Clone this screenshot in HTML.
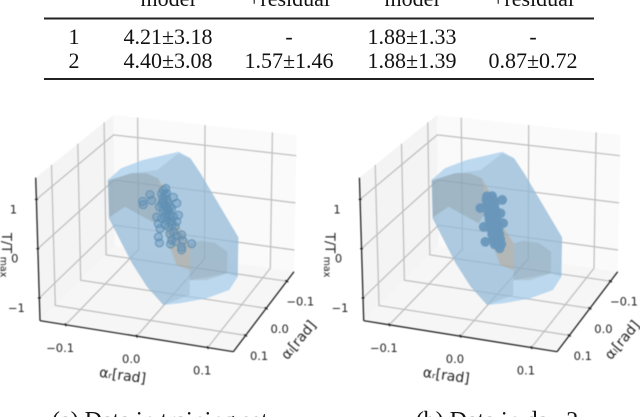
<!DOCTYPE html>
<html><head><meta charset="utf-8">
<style>
html,body{margin:0;padding:0;background:#fff;width:640px;height:417px;overflow:hidden}
svg{display:block;position:absolute;left:0;top:0}
.t{font-family:"Liberation Serif",serif;font-size:22px;fill:#111;text-anchor:middle}
.k{font-family:"DejaVu Sans",sans-serif;font-size:11.5px;fill:#222;text-anchor:middle}
</style></head>
<body>
<svg id="root" width="640" height="417" viewBox="0 0 640 417" xmlns="http://www.w3.org/2000/svg">
<g>
<text class="t" x="168" y="6">model</text>
<text class="t" x="289" y="6">+residual</text>
<text class="t" x="412" y="6">model</text>
<text class="t" x="533" y="6">+residual</text>
<rect x="44" y="17.5" width="550" height="2" fill="#222"/>
<text class="t" x="74" y="44">1</text>
<text class="t" x="168" y="44">4.21±3.18</text>
<text class="t" x="289" y="44">-</text>
<text class="t" x="412" y="44">1.88±1.33</text>
<text class="t" x="533" y="44">-</text>
<text class="t" x="74" y="68">2</text>
<text class="t" x="168" y="68">4.40±3.08</text>
<text class="t" x="289" y="68">1.57±1.46</text>
<text class="t" x="412" y="68">1.88±1.39</text>
<text class="t" x="533" y="68">0.87±0.72</text>
<rect x="44" y="78" width="550" height="2" fill="#222"/>
</g>
<text class="t" style="font-size:24px" x="160" y="428">(a) Data in training set</text>
<text class="t" style="font-size:24px" x="497" y="428">(b) Data in day 2</text>
<g id="plotA" style="filter:blur(.45px)"></g>
<g id="plotB" style="filter:blur(.45px)"></g>
</svg>
<script>
// ---- axis ticks ----
const rTicks = [-0.1, 0, 0.1];
const rTickLabels = ['−0.1', '0.0', '0.1'];
const lTicks = [-0.1, 0, 0.1];
const lTickLabels = ['−0.1', '0.0', '0.1'];
const zTicks = [-1, 0, 1];
const zTickLabels = ['−1', '0', '1'];

// ---- hull outlines (alpha_r, T) on the mid plane ----
const hullOuterR = [-.0895,-.0704,-.0392,.0111,.0278,.0422,.0973,.0973,.0853,.052,.0135,-.0105,-.0344,-.056,-.0887];
const hullOuterT = [.809,1.087,1.313,1.566,1.456,1.17,-.036,-.833,-1.127,-1.367,-1.55,-1.638,-1.31,-.869,.007];
const hullBodyR = [-.0895,-.056,-.0196,.0111,.0278,.0422,.0973,.0819,.0819,.0278,.0278,-.0105,-.0344,-.056,-.0887];
const hullBodyT = [.809,1.007,1.136,1.531,1.456,1.17,-.036,-.355,-.796,-1.042,-1.349,-1.638,-1.31,-.869,.007];
const hullShadeR = [-.0885,-.056,-.0344,-.0177,-.0105,-.0225,-.0416,-.0656,-.0881];
const hullShadeT = [.797,1.007,1.043,.968,.326,.028,.144,.294,.029];
const hullLowerR = [.0278,.0422,.0636,.0819,.0819,.052,.0278];
const hullLowerT = [-.288,-.207,-.207,-.355,-.796,-.993,-1.042];
const hullStripR = [-.0177,-.0033,.0062,.0278,.0278,.0087,-.0033,-.0105];
const hullStripT = [.968,.614,.15,-.288,-.836,-.772,-.349,.326];
const hullSideR = [.0819,.0973,.0973,.0819];
const hullSideT = [-.355,-.036,-.833,-.796];

// ---- scatter: training set ----
const trainR = [-.0105,-.0071,-.0129,-.0081,-.0114,-.0057,-.0129,-.0081,-.0033,-.0162,-.0105,-.0033,.0015,.0039,.0087,-.0067,-.0009,.0039,.0111,-.0201,-.0129,-.0057,.0015,.0087,-.0177,-.0081,-.0153,-.0033,.0063,.0039,-.0177,-.0009,.0087,.0159,.0015,-.0162,0,.0077,.0173,.0159,.0302,.0159,-.0392,-.0402,-.0296,-.0272,-.0057,-.0105,-.0057,-.0009,-.0033,-.0081,.0015];
const trainT = [.734,.776,.66,.636,.56,.552,.454,.43,.474,.378,.322,.337,.381,.614,.5,.248,.239,.216,.258,.164,.145,.126,.107,.123,.031,.018,-.067,-.007,.014,-.094,-.244,-.153,-.173,-.137,-.271,-.364,-.357,-.292,-.251,-.391,-.292,-.446,.384,.45,.611,.492,.675,.494,.366,.411,.2,.19,.038];

// ---- scatter: day 2 ----
const dayR = [-.0114,-.0067,-.0019,-.0105,-.0052,.0001,-.0095,-.0043,.001,-.0086,-.0033,.0024,-.0071,-.0019,.0034,-.0062,-.0009,.0044,-.0047,.0005,.0058,-.0033,.002,.0072,-.0019,.0034,.0087,.0005,.0053,.0101,-.0201,-.0129,.0111,.0087,.0125,-.0153,.0077,-.0091,-.0033,-.0081,-.0023,-.0071,-.0009,-.0057,.0001,-.0047,.001,-.0033,.0024,-.0019,.0034,-.0005,.0048,.0015,.0063,-.0105,-.0033];
const dayT = [.54,.55,.56,.439,.45,.461,.338,.349,.36,.237,.248,.261,.137,.148,.16,.036,.047,.059,-.064,-.053,-.041,-.165,-.154,-.142,-.265,-.253,-.242,-.363,-.352,-.342,.349,-.336,.574,.294,.096,-.033,-.429,.493,.505,.392,.404,.291,.304,.191,.203,.09,.102,-.01,.003,-.11,-.098,-.21,-.198,-.309,-.298,.611,.626];

// ---- axis domains ----
const rDomain = [-0.136, 0.136];
const lDomain = [0.16, -0.135];
const zDomain = [-1.46, 1.44];
const midPlaneL = 0.0125;

const SVGNS = 'http://www.w3.org/2000/svg';
function tr(v){return (v-rDomain[0])/(rDomain[1]-rDomain[0]);}
function tl(v){return (v-lDomain[0])/(lDomain[1]-lDomain[0]);}
function tz(v){return (v-zDomain[0])/(zDomain[1]-zDomain[0]);}
function mix(a,b,t){return [a[0]+(b[0]-a[0])*t,a[1]+(b[1]-a[1])*t];}
// cube frame in plot space
const FLb=[40,320.7],FLt=[35.7,177.7],FRb=[233.3,351.7],FRt=[237.3,200];
const BLb=[115,246],BLt=[113.3,115],BRb=[294,271.7],BRt=[296.7,135];

function makeProject(dx){
  return function(r,l,z){
    const a=tr(r),b=tl(l),c=tz(z);
    const bot=mix(mix(FLb,FRb,a),mix(BLb,BRb,a),b);
    const top=mix(mix(FLt,FRt,a),mix(BLt,BRt,a),b);
    const p=mix(bot,top,c);
    return [p[0]+dx,p[1]];
  };
}
function pts(list){return list.map(function(p){return p[0].toFixed(1)+','+p[1].toFixed(1);}).join(' ');}
function poly(parent,list,fill,stroke){
  const el=document.createElementNS(SVGNS,'polygon');
  el.setAttribute('points',pts(list));
  el.setAttribute('fill',fill);
  if(stroke){el.setAttribute('stroke',stroke);}
  parent.appendChild(el);
  return el;
}
function line(parent,list,color,w){
  const el=document.createElementNS(SVGNS,'polyline');
  el.setAttribute('points',pts(list));
  el.setAttribute('fill','none');
  el.setAttribute('stroke',color);
  el.setAttribute('stroke-width',w);
  parent.appendChild(el);
  return el;
}
function label(parent,x,y,s){
  const el=document.createElementNS(SVGNS,'text');
  el.setAttribute('class','k');
  el.setAttribute('x',x.toFixed(1));
  el.setAttribute('y',y.toFixed(1));
  el.textContent=s;
  parent.appendChild(el);
  return el;
}
function hullPts(P,rs,ts){return rs.map(function(r,i){return P(r,midPlaneL,ts[i]);});}

function drawPlot(g,dx,sR,sT,pointFill,pointStroke,pointSize){
  const P=makeProject(dx);
  const r0=rDomain[0],r1=rDomain[1],l0=lDomain[0],l1=lDomain[1],z0=zDomain[0],z1=zDomain[1];
  let e;
  e=poly(g,[P(r0,l0,z0),P(r0,l0,z1),P(r0,l1,z1),P(r0,l1,z0)],'#f4f4f4');
  
  
  e=poly(g,[P(r0,l1,z0),P(r0,l1,z1),P(r1,l1,z1),P(r1,l1,z0)],'#fafafa');
  
  
  e=poly(g,[P(r0,l0,z0),P(r1,l0,z0),P(r1,l1,z0),P(r0,l1,z0)],'#f6f6f6');
  
  

  const grid='#bdbdbd';
  rTicks.forEach(function(t){
    const el=line(g,[P(t,l0,z0),P(t,l1,z0),P(t,l1,z1)],grid,1.2);
    
    
  });
  lTicks.forEach(function(t){
    const el=line(g,[P(r0,t,z1),P(r0,t,z0),P(r1,t,z0)],grid,1.2);
    
    
  });
  zTicks.forEach(function(t){
    const el=line(g,[P(r0,l0,t),P(r0,l1,t),P(r1,l1,t)],grid,1.2);
    
    
  });

  e=poly(g,hullPts(P,hullOuterR,hullOuterT),'rgba(155,200,235,.65)');
  
  
  e=poly(g,hullPts(P,hullBodyR,hullBodyT),'rgba(125,150,170,.22)');
  
  
  e=poly(g,hullPts(P,hullShadeR,hullShadeT),'rgba(125,125,115,.25)');
  
  
  e=poly(g,hullPts(P,hullLowerR,hullLowerT),'rgba(125,135,130,.2)');
  
  
  e=poly(g,hullPts(P,hullStripR,hullStripT),'rgba(190,150,100,.33)');
  
  
  e=poly(g,hullPts(P,hullSideR,hullSideT),'rgba(110,140,160,.2)');
  
  

  sR.forEach(function(r,i){
    const p=P(r,midPlaneL,sT[i]);
    const c=document.createElementNS(SVGNS,'circle');
    c.setAttribute('cx',p[0].toFixed(1));
    c.setAttribute('cy',p[1].toFixed(1));
    c.setAttribute('r',pointSize);
    c.setAttribute('fill',pointFill);
    c.setAttribute('stroke',pointStroke);
    c.setAttribute('stroke-width','0.9');
    
    
    g.appendChild(c);
  });

  e=line(g,[P(r0,l0,z1),P(r0,l0,z0)],'#111',1.2);
  
  
  e=line(g,[P(r0,l0,z0),P(r1,l0,z0)],'#111',1.2);
  
  
  e=line(g,[P(r1,l0,z0),P(r1,l1,z0)],'#111',1.2);
  
  

  rTicks.forEach(function(t,i){
    const p=P(t,l0,z0);
    const m=line(g,[[p[0]-0.5,p[1]-1.5],[p[0]+0.5,p[1]+1.5]],'#111',1);
    
    
    const el=label(g,p[0]-5.5,p[1]+27,rTickLabels[i]);
    
    
  });
  lTicks.forEach(function(t,i){
    const p=P(r1,t,z0);
    const m=line(g,[[p[0]-1.5,p[1]-1],[p[0]+1.5,p[1]+1]],'#111',1);
    
    
    const el=label(g,p[0]+13.5,p[1]+24.5,lTickLabels[i]);
    
    
  });
  zTicks.forEach(function(t,i){
    const p=P(r0,l0,t);
    const m=line(g,[[p[0]-1.5,p[1]],[p[0]+1.5,p[1]]],'#111',1);
    
    
    const el=label(g,p[0]-23,p[1]+14,zTickLabels[i]);
    
    
  });

  let a=label(g,0,0,'αᵣ[rad]');
  a.setAttribute('transform','translate('+(122+dx)+' 380) rotate(8)');
  a.setAttribute('style','font-size:14px');
  
  
  a=label(g,0,0,'αₗ[rad]');
  a.setAttribute('transform','translate('+(302+dx)+' 343) rotate(-50)');
  a.setAttribute('style','font-size:14px');
  
  
  a=label(g,0,0,'T/T');
  a.setAttribute('transform','translate('+(2+dx)+' 243) rotate(90)');
  a.setAttribute('style','font-size:13px');
  
  
  a=label(g,0,0,'max');
  a.setAttribute('transform','translate('+(0.5+dx)+' 267) rotate(90)');
  a.setAttribute('style','font-size:9.5px');
  
  
}
drawPlot(document.getElementById('plotA'),0,trainR,trainT,'rgba(95,145,185,.38)','#5f8fb2','4');
drawPlot(document.getElementById('plotB'),3.7+320,dayR,dayT,'rgba(105,150,185,.95)','#6a98bb','4.4');
</script>
</body></html>
